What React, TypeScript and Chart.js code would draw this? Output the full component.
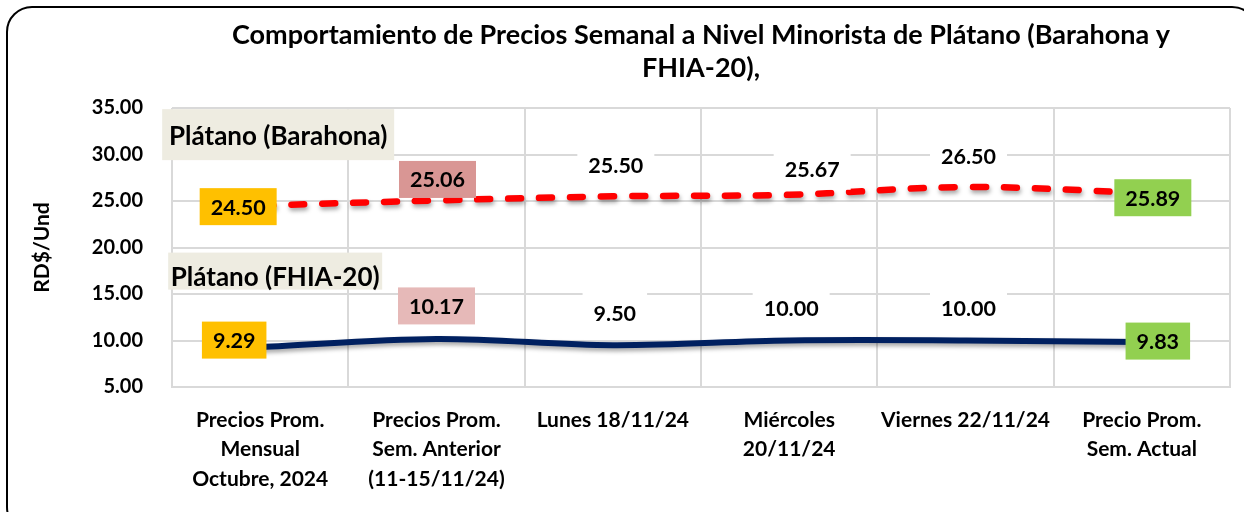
import React, { useEffect, useRef } from "react";
import { Chart, registerables } from "chart.js";

Chart.register(...registerables);

// ---------- data ----------
const categories: (string | string[])[] = [
  ["Precios Prom.", "Mensual", "Octubre, 2024"],
  ["Precios Prom.", "Sem. Anterior", "(11-15/11/24)"],
  "Lunes 18/11/24",
  ["Miércoles", "20/11/24"],
  "Viernes 22/11/24",
  ["Precio Prom.", "Sem. Actual"],
];
const barahona = [24.5, 25.06, 25.5, 25.67, 26.5, 25.89];
const fhia = [9.29, 10.17, 9.5, 10.0, 10.0, 9.83];
const seriesNames = ["Plátano (Barahona)", "Plátano (FHIA-20)"];
const titleLines = [
  "Comportamiento de Precios Semanal a Nivel Minorista de Plátano (Barahona y",
  "FHIA-20),",
];
const yAxisTitle = "RD$/Und";
const yMin = 5;
const yMax = 35;
const yStep = 5;

// ---------- label styling ----------
const barahonaLabelFills = ["#FFC000", "#D99694", "#FFFFFF", "#FFFFFF", "#FFFFFF", "#92D050"];
const fhiaLabelFills = ["#FFC000", "#E6B9B8", "#FFFFFF", "#FFFFFF", "#FFFFFF", "#92D050"];
const barahonaLabelShift = [[-22, 1], [1, -21], [3, -31], [23, -26], [3, -31], [11, 5]];
const fhiaLabelShift = [[-26, -7], [0, -33], [2, -32], [2, -32], [3, -32], [16, -1]];
const nameBoxShift = [
  { dx: 18, dy: -71, w: 232, h: 51, tdy: 2 },
  { dx: 15, dy: -76, w: 214, h: 37, tdy: 7 },
];

const FONT = "Lato, 'Open Sans', sans-serif";

const shadowPlugin = {
  id: "lineShadow",
  beforeDatasetDraw(chart: any) {
    const ctx = chart.ctx;
    ctx.save();
    ctx.shadowColor = "rgba(0,0,0,0.35)";
    ctx.shadowBlur = 4;
    ctx.shadowOffsetX = 1;
    ctx.shadowOffsetY = 3;
  },
  afterDatasetDraw(chart: any) {
    chart.ctx.restore();
  },
};

const framePlugin = {
  id: "frame",
  beforeDraw(chart: any) {
    const ctx = chart.ctx;
    ctx.save();
    ctx.fillStyle = "#FFFFFF";
    ctx.fillRect(0, 0, chart.width, chart.height);
    ctx.restore();
  },
  afterDraw(chart: any) {
    const ctx = chart.ctx;
    ctx.save();
    ctx.strokeStyle = "#000";
    ctx.lineWidth = 2;
    ctx.beginPath();
    ctx.roundRect(7, 7, 1250, 525, 25);
    ctx.stroke();
    ctx.restore();
  },
};

const labelPlugin = {
  id: "pointLabels",
  afterDatasetsDraw(chart: any) {
    const ctx = chart.ctx;
    const fills = [barahonaLabelFills, fhiaLabelFills];
    const shifts = [barahonaLabelShift, fhiaLabelShift];
    ctx.save();
    ctx.textAlign = "center";
    ctx.textBaseline = "middle";
    chart.data.datasets.forEach((ds: any, di: number) => {
      const meta = chart.getDatasetMeta(di);
      // series name box
      const p0 = meta.data[0];
      const nb = nameBoxShift[di];
      const cx = p0.x + nb.dx;
      const cy = p0.y + nb.dy;
      ctx.fillStyle = "#EEECE1";
      ctx.fillRect(cx - nb.w / 2, cy - nb.h / 2, nb.w, nb.h);
      ctx.fillStyle = "#000";
      ctx.font = `bold 26px ${FONT}`;
      ctx.fillText(seriesNames[di], cx, cy + nb.tdy);

      ctx.font = `bold 21.5px ${FONT}`;
      meta.data.forEach((pt: any, i: number) => {
        const text = Number(ds.data[i]).toFixed(2);
        const [dx, dy] = shifts[di][i];
        const x = pt.x + dx;
        const y = pt.y + dy;
        const tw = ctx.measureText(text).width;
        const w = tw + 22;
        const h = fills[di][i] === "#FFFFFF" ? 42 : 37;
        ctx.fillStyle = fills[di][i];
        ctx.fillRect(x - w / 2, y - h / 2, w, h);
        ctx.fillStyle = "#000";
        ctx.fillText(text, x, y + 1);
      });
    });
    ctx.restore();
  },
};

export default function App() {
  const ref = useRef<HTMLCanvasElement>(null);
  useEffect(() => {
    const chart = new Chart(ref.current as HTMLCanvasElement, {
      type: "line",
      data: {
        labels: categories as any,
        datasets: [
          {
            label: seriesNames[0],
            data: barahona,
            borderColor: "#FF0000",
            borderWidth: 6.5,
            borderDash: [13, 18],
            borderCapStyle: "round",
            tension: 0.35,
            pointRadius: 0,
            fill: false,
          },
          {
            label: seriesNames[1],
            data: fhia,
            borderColor: "#002060",
            borderWidth: 6,
            borderCapStyle: "round",
            tension: 0.35,
            pointRadius: 0,
            fill: false,
          },
        ],
      },
      options: {
        responsive: false,
        animation: false,
        devicePixelRatio: 1,
        layout: { padding: { left: 0, right: 14, top: 0, bottom: 0 } },
        plugins: {
          legend: { display: false },
          tooltip: { enabled: false },
          title: {
            display: true,
            fullSize: false,
            text: titleLines,
            color: "#000",
            font: { family: FONT, size: 27, weight: "bold", lineHeight: 33 / 27 },
            padding: { top: 18.5, bottom: 23.5 },
          },
        },
        scales: {
          x: {
            offset: true,
            afterFit: (s: any) => {
              s.height = 125;
            },
            grid: { offset: true, color: "#D9D9D9", lineWidth: 2, drawTicks: false },
            border: { display: true, color: "#D9D9D9", width: 2 },
            ticks: {
              color: "#000",
              font: { family: FONT, size: 21, weight: "bold", lineHeight: 29.5 / 21 },
              padding: 18,
              maxRotation: 0,
              autoSkip: false,
            },
          },
          y: {
            min: yMin,
            max: yMax,
            afterFit: (s: any) => {
              s.width = 172;
            },
            grid: { color: "#D9D9D9", lineWidth: 2, drawTicks: false },
            border: { display: false },
            ticks: {
              stepSize: yStep,
              color: "#000",
              padding: 29,
              font: { family: FONT, size: 20, weight: "bold" },
              callback: (v: any) => Number(v).toFixed(2),
            },
            title: {
              display: true,
              text: yAxisTitle,
              color: "#000",
              font: { family: FONT, size: 21, weight: "bold", lineHeight: 1.2 },
              padding: { top: 29.4, bottom: 0 },
            },
          },
        },
      },
      plugins: [framePlugin, shadowPlugin, labelPlugin],
    } as any);
    return () => chart.destroy();
  }, []);
  return (
    <div style={{ position: "fixed", left: 0, top: 0, width: 1244, height: 512, background: "#fff" }}>
      <canvas ref={ref} width={1244} height={512} style={{ display: "block", width: 1244, height: 512 }} />
    </div>
  );
}
